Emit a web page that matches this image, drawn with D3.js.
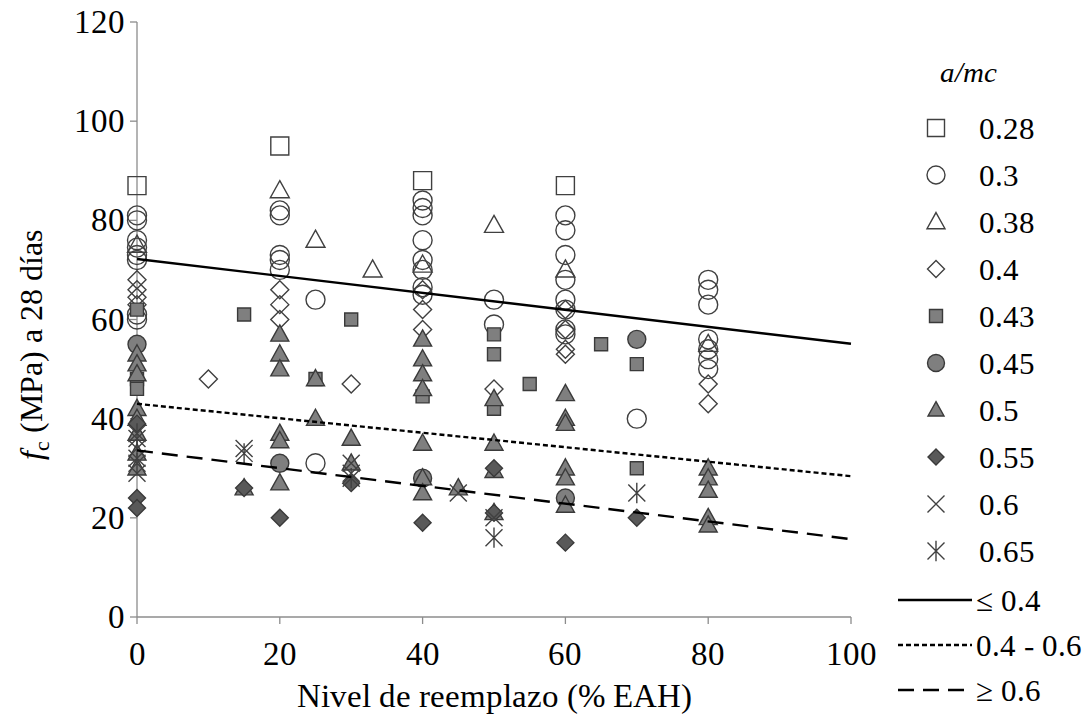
<!DOCTYPE html>
<html>
<head>
<meta charset="utf-8">
<title>fc vs reemplazo</title>
<script src="https://d3js.org/d3.v7.min.js"></script>
<style>
  @font-face { font-family: "ChartSerif"; src: local("Liberation Serif"), local("LiberationSerif"), local("Times New Roman"); font-style: normal; }
  @font-face { font-family: "ChartSerif"; src: local("Liberation Serif Italic"), local("LiberationSerif-Italic"); font-style: italic; }
  body { margin: 0; background: #fff; }
</style>
</head>
<body>
<svg id="chart" width="1092" height="724" style="display:block"></svg>
<script>
// data: [nivel de reemplazo %, fc MPa]
var s028 = [[0, 87], [20, 95], [40, 88], [60, 87]];
var s030 = [[0, 81], [0, 80], [0, 76], [0, 74.5], [0, 73], [0, 72], [0, 61], [0, 60],
            [20, 82], [20, 81], [20, 73], [20, 72], [20, 70], [25, 64], [25, 31],
            [40, 84], [40, 82.5], [40, 81], [40, 76], [40, 72], [40, 70], [40, 66.5], [40, 65],
            [50, 64], [50, 59],
            [60, 81], [60, 78], [60, 73], [60, 68], [60, 64], [60, 62], [60, 58], [60, 57],
            [70, 40],
            [80, 68], [80, 66], [80, 63], [80, 56], [80, 54], [80, 52], [80, 50]];
var s038 = [[0, 75], [20, 86], [25, 76], [33, 70], [40, 71], [50, 79], [60, 70], [80, 55]];
var s040 = [[0, 68], [0, 66], [0, 64.5], [0, 63], [10, 48],
            [20, 66], [20, 63], [20, 60], [30, 47],
            [40, 66], [40, 62], [40, 58], [50, 46],
            [60, 62], [60, 58], [60, 54], [60, 53],
            [80, 47], [80, 43]];
var s043 = [[0, 62], [0, 48], [0, 46], [15, 61], [25, 48], [30, 60], [40, 44.5],
            [50, 57], [50, 53], [50, 42], [55, 47], [65, 55], [70, 51], [70, 30]];
var s045 = [[0, 55], [20, 31], [40, 28], [60, 24], [70, 56]];
var s050 = [[0, 53], [0, 51], [0, 49], [0, 42], [0, 40], [0, 37], [0, 33], [0, 30],
            [15, 26], [20, 57], [20, 53], [20, 50], [20, 37], [20, 35.5], [20, 27],
            [25, 48], [25, 40], [30, 36], [30, 31],
            [40, 56], [40, 52], [40, 49], [40, 46], [40, 35], [40, 28], [40, 25], [45, 26],
            [50, 44], [50, 35], [50, 29.5], [50, 21],
            [60, 45], [60, 40], [60, 39], [60, 30], [60, 28], [60, 22.5],
            [80, 30], [80, 28], [80, 25.5], [80, 20], [80, 18.5]];
var s055 = [[0, 39], [0, 24], [0, 22], [15, 26], [20, 20], [30, 27], [40, 19],
            [50, 30], [50, 21], [60, 15], [70, 20]];
var s060 = [[0, 36], [0, 32], [0, 29], [15, 34], [30, 31], [30, 29], [45, 25], [50, 20]];
var s065 = [[0, 37], [0, 34], [0, 31], [15, 33], [30, 28], [50, 16], [70, 25]];

var seriesNames = ["0.28", "0.3", "0.38", "0.4", "0.43", "0.45", "0.5", "0.55", "0.6", "0.65"];
var seriesData = [s028, s030, s038, s040, s043, s045, s050, s055, s060, s065];
var seriesShape = ["square", "circle", "triangle", "diamond", "square", "circle", "triangle", "diamond", "x", "star"];
var seriesFill = ["none", "none", "none", "none", "#7f7f7f", "#7f7f7f", "#7f7f7f", "#595959", "none", "none"];

// tendencias: [x0, y0, x1, y1]
var trendNames = ["\u2264 0.4", "0.4 - 0.6", "\u2265 0.6"];
var trendLines = [[0, 72.2, 100, 55.1], [0, 43, 100, 28.4], [0, 33.6, 100, 15.7]];
var trendDash = [null, "5,3", "16,9"];

var xTicks = [0, 20, 40, 60, 80, 100];
var yTicks = [0, 20, 40, 60, 80, 100, 120];

var svg = d3.select("#chart");
var x = d3.scaleLinear().domain([0, 100]).range([137, 851]);
var y = d3.scaleLinear().domain([0, 120]).range([617, 22]);

// texto con la fuente serif
function addText(parent, tx, ty, size, str) {
    return parent.append("text").attr("x", tx).attr("y", ty)
        .attr("font-size", size)
        .style("font-family", "ChartSerif, 'Liberation Serif', 'Times New Roman', serif")
        .text(str);
}

// forma de los marcadores
function shapePath(kind, r) {
    if (kind == "square") {
        return "M" + (-r) + "," + (-r) + "h" + (2 * r) + "v" + (2 * r) + "h" + (-2 * r) + "Z";
    }
    if (kind == "circle") {
        return "M" + r + ",0A" + r + "," + r + " 0 1,1 " + (-r) + ",0A" + r + "," + r + " 0 1,1 " + r + ",0Z";
    }
    if (kind == "triangle") {
        return "M0," + (-r * 1.05) + "L" + (r * 1.0) + "," + (r * 0.75) + "L" + (-r * 1.0) + "," + (r * 0.75) + "Z";
    }
    if (kind == "diamond") {
        return "M0," + (-r) + "L" + r + ",0L0," + r + "L" + (-r) + ",0Z";
    }
    if (kind == "x") {
        return "M" + (-r) + "," + (-r) + "L" + r + "," + r + "M" + r + "," + (-r) + "L" + (-r) + "," + r;
    }
    // asterisco
    return "M" + (-r) + "," + (-r) + "L" + r + "," + r + "M" + r + "," + (-r) + "L" + (-r) + "," + r +
           "M0," + (-r * 1.2) + "L0," + (r * 1.2);
}

var markerR = [9, 9.5, 9.5, 9, 6.5, 9, 9, 8.5, 8.5, 8.5];
var markerRLegend = [8.5, 9, 9, 8.5, 6.5, 8.5, 8, 8, 8.5, 8.5];

// ejes
svg.append("line").attr("x1", x(0)).attr("x2", x(100)).attr("y1", y(0)).attr("y2", y(0))
    .attr("stroke", "#8c8c8c").attr("stroke-width", 1.3);
svg.append("line").attr("x1", x(0)).attr("x2", x(0)).attr("y1", y(0)).attr("y2", y(120))
    .attr("stroke", "#8c8c8c").attr("stroke-width", 1.3);

yTicks.forEach(function (d) {
    svg.append("line").attr("x1", x(0) - 7).attr("x2", x(0)).attr("y1", y(d)).attr("y2", y(d))
        .attr("stroke", "#8c8c8c").attr("stroke-width", 1.3);
    addText(svg, 125, y(d) + 11, 33, d).attr("text-anchor", "end");
});
xTicks.forEach(function (d) {
    svg.append("line").attr("x1", x(d)).attr("x2", x(d)).attr("y1", y(0)).attr("y2", y(0) + 7)
        .attr("stroke", "#8c8c8c").attr("stroke-width", 1.3);
    addText(svg, x(d), 665, 33, d).attr("text-anchor", "middle");
});

addText(svg, 494, 707, 33, "Nivel de reemplazo (% EAH)").attr("text-anchor", "middle");

var yl = addText(svg, 0, 0, 32, null).attr("transform", "translate(42,345) rotate(-90)")
    .attr("text-anchor", "middle");
yl.append("tspan").attr("font-style", "italic").text("f");
yl.append("tspan").attr("font-size", 22).attr("dy", 7).text("c");
yl.append("tspan").attr("dy", -7).text(" (MPa) a 28 días");

// puntos
seriesData.forEach(function (data, i) {
    var filled = seriesFill[i] != "none";
    svg.append("g").selectAll("path").data(data).enter().append("path")
        .attr("transform", function (d) { return "translate(" + x(d[0]) + "," + y(d[1]) + ")"; })
        .attr("d", shapePath(seriesShape[i], markerR[i]))
        .attr("fill", seriesFill[i])
        .attr("stroke", filled ? "#3a3a3a" : "#404040")
        .attr("stroke-width", 1.4);
});

// rectas de tendencia
svg.selectAll(".trend").data(trendLines).enter().append("line")
    .attr("x1", function (d) { return x(d[0]); }).attr("y1", function (d) { return y(d[1]); })
    .attr("x2", function (d) { return x(d[2]); }).attr("y2", function (d) { return y(d[3]); })
    .attr("stroke", "#000").attr("stroke-width", 2.4)
    .attr("stroke-dasharray", function (d, i) { return trendDash[i]; });

// leyenda
addText(svg, 968, 82, 29, "a/mc").attr("text-anchor", "middle").attr("font-style", "italic");

seriesNames.forEach(function (name, i) {
    var ly = 128 + i * 47;
    svg.append("path").attr("transform", "translate(936," + ly + ")")
        .attr("d", shapePath(seriesShape[i], markerRLegend[i]))
        .attr("fill", seriesFill[i])
        .attr("stroke", seriesFill[i] == "none" ? "#404040" : "#3a3a3a")
        .attr("stroke-width", 1.4);
    addText(svg, 979, ly + 11, 31, name);
});

trendNames.forEach(function (name, i) {
    var ly = 600 + i * 45;
    svg.append("line").attr("x1", 898).attr("x2", 972).attr("y1", ly).attr("y2", ly)
        .attr("stroke", "#000").attr("stroke-width", 2.4)
        .attr("stroke-dasharray", trendDash[i]);
    addText(svg, 976, ly + 11, 31, name);
});
</script>
</body>
</html>
